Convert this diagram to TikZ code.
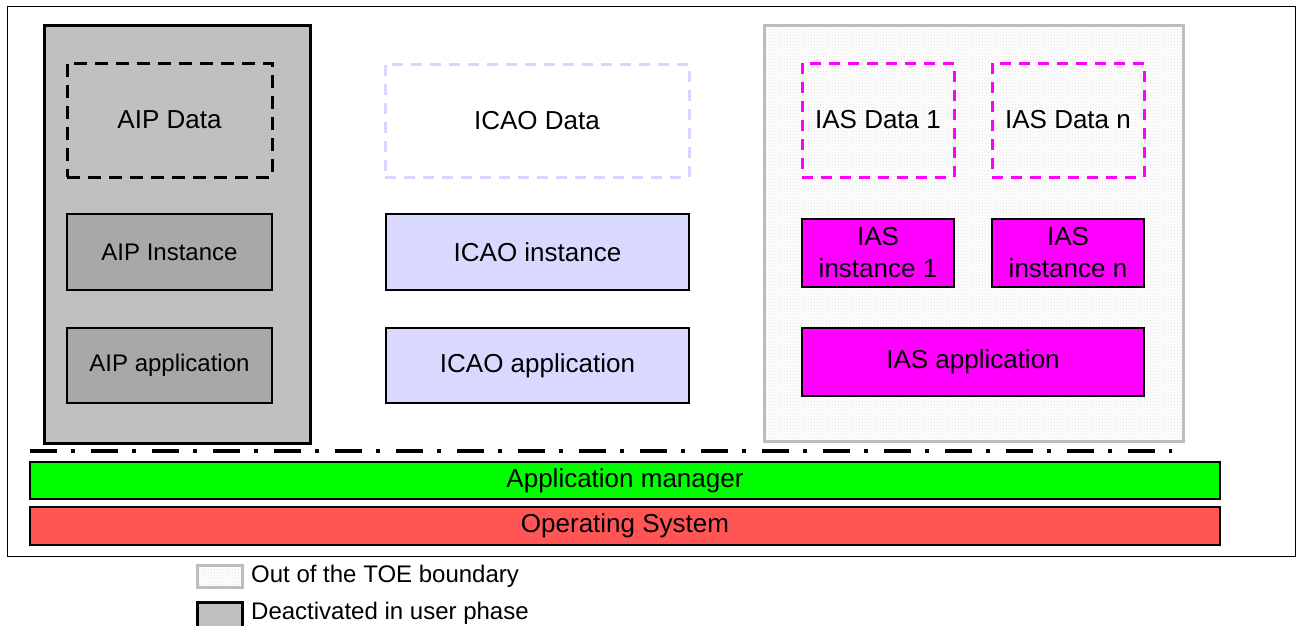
\documentclass[tikz,border=0pt]{standalone}
\usepackage{fontspec}
\setmainfont{Liberation Sans}
\usetikzlibrary{patterns}
\definecolor{aipout}{HTML}{C0C0C0}
\definecolor{aipin}{HTML}{A8A8A8}
\definecolor{icao}{HTML}{D9D9FF}
\definecolor{icaodash}{HTML}{D6D6FF}
\definecolor{ias}{HTML}{FF00FF}
\definecolor{amgr}{HTML}{00FF00}
\definecolor{osred}{HTML}{FF5555}
\definecolor{toeborder}{HTML}{BDBDBD}
\newcommand\bx[7]{\node[#6, minimum width=#4pt-#2pt, minimum height=#5pt-#3pt] (#1) at ({(#2+#4)/2},{(#3+#5)/2}) {#7};}
\tikzset{
  base/.style={inner sep=0pt, outer sep=0pt, align=center, font=\fontsize{26}{32}\selectfont},
  smallf/.style={font=\fontsize{24}{28}\selectfont},
  deact/.style={base, draw=black, line width=3pt, fill=aipout},
  aipdata/.style={base, draw=black, line width=3pt, dash pattern=on 13pt off 8pt},
  aipbox/.style={base, smallf, draw=black, line width=1.5pt, fill=aipin},
  icaodata/.style={base, draw=icaodash, line width=3pt, dash pattern=on 11pt off 8pt},
  icaobox/.style={base, draw=black, line width=1.5pt, fill=icao},
  toe/.style={base, draw=toeborder, line width=3pt, preaction={fill=white}, pattern=crosshatch dots, pattern color=black!12},
  iasdata/.style={base, draw=ias, line width=3pt, dash pattern=on 11pt off 8pt},
  iasbox/.style={base, draw=black, line width=1.5pt, fill=ias},
  mgr/.style={base, draw=black, line width=1.5pt, fill=amgr},
  osbox/.style={base, draw=black, line width=1.5pt, fill=osred},
  legtext/.style={inner sep=0pt, anchor=west, font=\fontsize{24}{28}\selectfont},
  sep/.style={line width=4pt, dash pattern=on 27pt off 14pt on 4pt off 16pt}
}
\begin{document}
\begin{tikzpicture}[x=1pt,y=-1pt]
\useasboundingbox (0,0) rectangle (1299,625);
% frame
\draw[line width=1pt] (7,6) rectangle (1295,556);
% AIP column
\bx{aip}{44}{25}{310}{443}{deact}{}
\bx{aipdata}{67}{63}{272}{177}{aipdata}{AIP Data}
\bx{aipinst}{67}{214}{272}{290}{aipbox}{AIP Instance}
\bx{aipapp}{67}{328}{272}{403}{aipbox}{AIP application}
% ICAO column
\bx{icaodata}{385}{64}{689}{177}{icaodata}{ICAO Data}
\bx{icaoinst}{386}{214}{689}{290}{icaobox}{ICAO instance}
\bx{icaoapp}{386}{328}{689}{403}{icaobox}{ICAO application}
% IAS column
\bx{iasout}{764}{25}{1183}{441}{toe}{}
\bx{iasdata1}{802}{63}{954}{177}{iasdata}{IAS Data 1}
\bx{iasdatan}{992}{63}{1144}{177}{iasdata}{IAS Data n}
\bx{iasinst1}{802}{219}{954}{287}{iasbox}{IAS\\instance 1}
\bx{iasinstn}{992}{219}{1144}{287}{iasbox}{IAS\\instance n}
\bx{iasapp}{802}{328}{1144}{396}{iasbox}{IAS application}
% separator
\coordinate (sepL) at (30,451);
\coordinate (sepR) at (1172,451);
\draw[sep] (sepL) -- (sepR);
% layers
\bx{mgr}{30}{462}{1220}{499}{mgr}{Application manager}
\bx{os}{30}{507}{1220}{545}{osbox}{Operating System}
% legend
\bx{leg1}{197}{565}{242}{587}{toe}{}
\node[legtext] (leg1t) at (251,576) {Out of the TOE boundary};
\bx{leg2}{197}{602}{242}{630}{deact}{}
\node[legtext] (leg2t) at (251,613) {Deactivated in user phase};
\end{tikzpicture}
\end{document}
